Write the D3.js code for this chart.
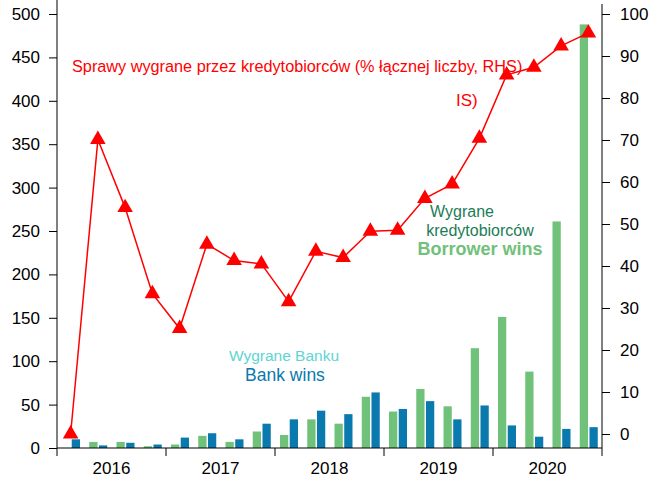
<!DOCTYPE html>
<html>
<head>
<meta charset="utf-8">
<script src="https://cdn.jsdelivr.net/npm/d3@7"></script>
<style>
  body { margin: 0; background: #fff; }
  svg { display: block; font-family: "Liberation Sans", Arial, sans-serif; }
</style>
</head>
<body>
<div id="chart"></div>
<script>
// Quarterly data, 2016 Q1 - 2020 Q4
const quarters = ["2016Q1","2016Q2","2016Q3","2016Q4","2017Q1","2017Q2","2017Q3","2017Q4",
                  "2018Q1","2018Q2","2018Q3","2018Q4","2019Q1","2019Q2","2019Q3","2019Q4",
                  "2020Q1","2020Q2","2020Q3","2020Q4"];
const years = ["2016","2017","2018","2019","2020"];
// Borrower wins (LHS, count)
const borrowerWins = [0, 7, 7, 2, 4, 14, 7, 19, 15, 33, 28, 59, 42, 68, 48, 115, 151, 88, 261, 488];
// Bank wins (LHS, count)
const bankWins = [10, 3, 6, 4, 12, 17, 10, 28, 33, 43, 39, 64, 45, 54, 33, 49, 26, 13, 22, 24];
// Share of cases won by borrowers (% of total, RHS)
const borrowerShare = [0, 70.1, 53.9, 33.4, 25.1, 45.2, 41.3, 40.5, 31.5, 43.5, 42, 48.3,
                       48.5, 56.1, 59.5, 70.4, 85.5, 87.3, 92.4, 95.5];
const leftTicks = d3.range(0, 501, 50);
const rightTicks = d3.range(0, 101, 10);

const W = 654, H = 479;
const left = 57, right = 602, bottom = 448;

const svg = d3.select("#chart").append("svg")
    .attr("width", W)
    .attr("height", H);

// Scales
const x = d3.scaleBand().domain(quarters).range([left, right]).padding(0);
const xYear = d3.scaleBand().domain(years).range([left, right]).padding(0);
const inner = d3.scaleBand().domain(["borrower", "bank"]).range([5, 23]).paddingInner(0.15);
const yL = d3.scaleLinear().domain([0, 500]).range([bottom, 14]);
const yR = d3.scaleLinear().domain([0, 100]).range([434, 14]);

const green = "#70c17a", blue = "#0a79ae", red = "#ff0000";

// Bars
svg.append("g").selectAll("rect")
    .data(quarters)
    .join("rect")
    .attr("x", (d) => x(d) + inner("borrower"))
    .attr("y", (d, i) => yL(borrowerWins[i]))
    .attr("width", inner.bandwidth())
    .attr("height", (d, i) => yL(0) - yL(borrowerWins[i]))
    .attr("fill", green);

svg.append("g").selectAll("rect")
    .data(quarters)
    .join("rect")
    .attr("x", (d) => x(d) + inner("bank"))
    .attr("y", (d, i) => yL(bankWins[i]))
    .attr("width", inner.bandwidth())
    .attr("height", (d, i) => yL(0) - yL(bankWins[i]))
    .attr("fill", blue);

// Line (RHS)
const cx = (d) => x(d) + x.bandwidth() / 2;
svg.append("path")
    .datum(quarters)
    .attr("fill", "none")
    .attr("stroke", red)
    .attr("stroke-width", 1.5)
    .attr("d", d3.line().x(cx).y((d, i) => yR(borrowerShare[i])));

svg.append("g").selectAll("path")
    .data(quarters)
    .join("path")
    .attr("transform", (d, i) => `translate(${cx(d)},${yR(borrowerShare[i])})`)
    .attr("d", d3.symbol(d3.symbolTriangle, 105))
    .attr("fill", red);

// Axes
const tickFont = "17px";
const gL = svg.append("g")
    .attr("transform", `translate(${left},0)`)
    .call(d3.axisLeft(yL).tickValues(leftTicks).tickSize(8).tickPadding(9).tickSizeOuter(0));
gL.select(".domain").remove();

const gR = svg.append("g")
    .attr("transform", `translate(${right},0)`)
    .call(d3.axisRight(yR).tickValues(rightTicks).tickSize(8).tickPadding(10).tickSizeOuter(0));
gR.select(".domain").remove();

const gX = svg.append("g")
    .attr("transform", `translate(0,${bottom})`)
    .call(d3.axisBottom(xYear).tickSize(0).tickPadding(14).tickSizeOuter(0));
gX.select(".domain").remove();

// year boundary ticks
svg.append("g").selectAll("line")
    .data(years.concat(["end"]))
    .join("line")
    .attr("x1", (d) => d === "end" ? right : xYear(d))
    .attr("x2", (d) => d === "end" ? right : xYear(d))
    .attr("y1", bottom)
    .attr("y2", bottom + 8)
    .attr("stroke", "#000");

// frame lines
svg.append("line").attr("x1", left).attr("x2", left).attr("y1", 0).attr("y2", bottom).attr("stroke", "#000");
svg.append("line").attr("x1", right).attr("x2", right).attr("y1", 4).attr("y2", bottom).attr("stroke", "#000");
svg.append("line").attr("x1", left).attr("x2", right).attr("y1", bottom).attr("y2", bottom).attr("stroke", "#000");

svg.selectAll(".tick text").style("font-size", tickFont).attr("fill", "#000")
    .style("font-family", "'Liberation Sans', Arial, sans-serif");
svg.selectAll(".tick line").attr("stroke", "#000");

// Labels
svg.append("text")
    .attr("x", 72).attr("y", 72)
    .attr("fill", red)
    .style("font-size", "16.25px")
    .text("Sprawy wygrane przez kredytobiorców (% łącznej liczby, RHS)");

svg.append("text")
    .attr("x", 456).attr("y", 106)
    .attr("fill", red)
    .style("font-size", "17px")
    .text("IS)");

svg.append("text")
    .attr("x", 462).attr("y", 217)
    .attr("text-anchor", "middle")
    .attr("fill", "#1d7c58")
    .style("font-size", "16px")
    .text("Wygrane");

svg.append("text")
    .attr("x", 480).attr("y", 236)
    .attr("text-anchor", "middle")
    .attr("fill", "#1d7c58")
    .style("font-size", "16px")
    .text("kredytobiorców");

svg.append("text")
    .attr("x", 480).attr("y", 255)
    .attr("text-anchor", "middle")
    .attr("fill", green)
    .style("font-size", "18px")
    .style("font-weight", "bold")
    .text("Borrower wins");

svg.append("text")
    .attr("x", 284).attr("y", 361)
    .attr("text-anchor", "middle")
    .attr("fill", "#5fd4d2")
    .style("font-size", "15.5px")
    .text("Wygrane Banku");

svg.append("text")
    .attr("x", 285).attr("y", 381)
    .attr("text-anchor", "middle")
    .attr("fill", blue)
    .style("font-size", "17.5px")
    .text("Bank wins");
</script>
</body>
</html>
